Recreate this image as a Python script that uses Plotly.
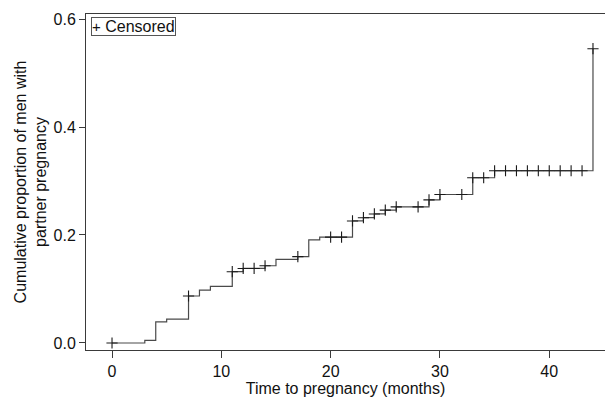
import plotly.graph_objects as go
import numpy as np

# Kaplan-Meier style cumulative proportion (step changes)
step_times = [0, 3, 4, 5, 7, 8, 9, 11, 12, 14, 15, 17, 18, 19, 22, 23, 24, 25, 26, 29, 30, 33, 35, 44]
step_values = [0.0, 0.005, 0.039, 0.044, 0.087, 0.098, 0.105, 0.132, 0.138, 0.143, 0.155, 0.160,
               0.191, 0.196, 0.226, 0.232, 0.239, 0.246, 0.252, 0.265, 0.275, 0.306, 0.319, 0.545]
censor_times = [0, 7, 11, 12, 13, 14, 17, 20, 21, 22, 23, 24, 25, 26, 28, 29, 30, 32, 33, 34,
                35, 36, 37, 38, 39, 40, 41, 42, 43, 44]

x_ticks = [0, 10, 20, 30, 40]
y_ticks = [0.0, 0.2, 0.4, 0.6]

# value of the step function at each censor time
st = np.array(step_times)
sv = np.array(step_values)
censor_values = [float(sv[np.searchsorted(st, t, side="right") - 1]) for t in censor_times]

FONT = "Liberation Sans, Arial, sans-serif"
LINE = "#3a3a3a"

fig = go.Figure()
fig.add_trace(go.Scatter(
    x=step_times, y=step_values, mode="lines",
    line=dict(shape="hv", color="#4a4a4a", width=1.2),
    showlegend=False, hoverinfo="skip", cliponaxis=False,
))
fig.add_trace(go.Scatter(
    x=censor_times, y=censor_values, mode="markers",
    marker=dict(symbol="cross-thin", size=8, line=dict(color="#1a1a1a", width=1.1)),
    name="Censored", showlegend=False, cliponaxis=False,
))

fig.add_annotation(
    x=0.0, y=1.0, xref="paper", yref="paper", xanchor="left", yanchor="top",
    xshift=5, yshift=-3,
    text="<span style='font-size:15px'>+</span> Censored", showarrow=False,
    font=dict(family=FONT, size=16, color="#111"),
    bordercolor="#555", borderwidth=1, borderpad=0, bgcolor="white",
)

fig.update_layout(
    width=605, height=400,
    margin=dict(l=86, r=0, t=14, b=50),
    paper_bgcolor="white", plot_bgcolor="white",
    font=dict(family=FONT, size=16, color="#111"),
)
fig.update_xaxes(
    range=[-2.38, 45.1], tickvals=x_ticks, ticktext=[str(v) for v in x_ticks],
    ticks="outside", ticklen=7, tickwidth=1, tickcolor=LINE,
    showline=True, linecolor=LINE, linewidth=1, mirror=True,
    showgrid=False, zeroline=False, automargin=False,
    title=dict(text="Time to pregnancy (months)", standoff=2, font=dict(size=16)),
)
fig.update_yaxes(
    range=[-0.013, 0.6093], tickvals=y_ticks, ticktext=[f"{v:.1f}" for v in y_ticks],
    ticks="outside", ticklen=6, tickwidth=1, tickcolor=LINE,
    showline=True, linecolor=LINE, linewidth=1,
    showgrid=False, zeroline=False, automargin=False,
    title=dict(text="Cumulative proportion of men with<br>partner pregnancy", standoff=2, font=dict(size=16)),
)

fig.write_html(
    "out.html",
    config={"displayModeBar": False},
    post_script="document.body.style.margin='0';document.body.style.overflow='hidden';",
)
